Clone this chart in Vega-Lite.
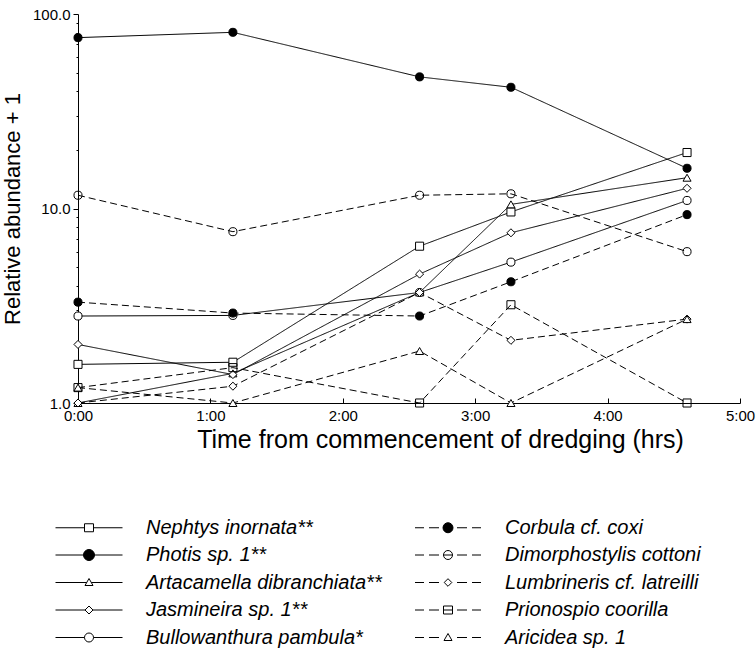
{
  "$schema": "https://vega.github.io/schema/vega-lite/v6.json",
  "width": 662,
  "height": 389,
  "autosize": {"type": "none"},
  "padding": {"left": 78, "top": 14, "right": 16, "bottom": 246},
  "background": "white",
  "config": {
    "view": {"stroke": null},
    "font": "Liberation Sans",
    "axis": {"domainColor": "black", "tickColor": "black", "labelColor": "black", "titleColor": "black", "titleFontWeight": "normal", "grid": false}
  },
  "data": {
    "values": [
      {"species": "Nephtys inornata**", "t": 0, "v": 1.58},
      {"species": "Nephtys inornata**", "t": 1.17, "v": 1.62},
      {"species": "Nephtys inornata**", "t": 2.58, "v": 6.4},
      {"species": "Nephtys inornata**", "t": 3.27, "v": 9.6},
      {"species": "Nephtys inornata**", "t": 4.6, "v": 19.4},
      {"species": "Photis sp. 1**", "t": 0, "v": 75.6},
      {"species": "Photis sp. 1**", "t": 1.17, "v": 80.5},
      {"species": "Photis sp. 1**", "t": 2.58, "v": 47.5},
      {"species": "Photis sp. 1**", "t": 3.27, "v": 42},
      {"species": "Photis sp. 1**", "t": 4.6, "v": 16.1},
      {"species": "Artacamella dibranchiata**", "t": 0, "v": 1.0},
      {"species": "Artacamella dibranchiata**", "t": 1.17, "v": 1.42},
      {"species": "Artacamella dibranchiata**", "t": 2.58, "v": 3.7},
      {"species": "Artacamella dibranchiata**", "t": 3.27, "v": 10.5},
      {"species": "Artacamella dibranchiata**", "t": 4.6, "v": 14.4},
      {"species": "Jasmineira sp. 1**", "t": 0, "v": 2.0},
      {"species": "Jasmineira sp. 1**", "t": 1.17, "v": 1.4},
      {"species": "Jasmineira sp. 1**", "t": 2.58, "v": 4.6},
      {"species": "Jasmineira sp. 1**", "t": 3.27, "v": 7.5},
      {"species": "Jasmineira sp. 1**", "t": 4.6, "v": 12.7},
      {"species": "Bullowanthura pambula*", "t": 0, "v": 2.8},
      {"species": "Bullowanthura pambula*", "t": 1.17, "v": 2.82},
      {"species": "Bullowanthura pambula*", "t": 2.58, "v": 3.7},
      {"species": "Bullowanthura pambula*", "t": 3.27, "v": 5.3},
      {"species": "Bullowanthura pambula*", "t": 4.6, "v": 11.0},
      {"species": "Corbula cf. coxi", "t": 0, "v": 3.3},
      {"species": "Corbula cf. coxi", "t": 1.17, "v": 2.9},
      {"species": "Corbula cf. coxi", "t": 2.58, "v": 2.8},
      {"species": "Corbula cf. coxi", "t": 3.27, "v": 4.2},
      {"species": "Corbula cf. coxi", "t": 4.6, "v": 9.3},
      {"species": "Dimorphostylis cottoni", "t": 0, "v": 11.7},
      {"species": "Dimorphostylis cottoni", "t": 1.17, "v": 7.6},
      {"species": "Dimorphostylis cottoni", "t": 2.58, "v": 11.7},
      {"species": "Dimorphostylis cottoni", "t": 3.27, "v": 11.9},
      {"species": "Dimorphostylis cottoni", "t": 4.6, "v": 6.0},
      {"species": "Lumbrineris cf. latreilli", "t": 0, "v": 1.0},
      {"species": "Lumbrineris cf. latreilli", "t": 1.17, "v": 1.22},
      {"species": "Lumbrineris cf. latreilli", "t": 2.58, "v": 3.7},
      {"species": "Lumbrineris cf. latreilli", "t": 3.27, "v": 2.1},
      {"species": "Lumbrineris cf. latreilli", "t": 4.6, "v": 2.7},
      {"species": "Prionospio coorilla", "t": 0, "v": 1.2},
      {"species": "Prionospio coorilla", "t": 1.17, "v": 1.52},
      {"species": "Prionospio coorilla", "t": 2.58, "v": 1.0},
      {"species": "Prionospio coorilla", "t": 3.27, "v": 3.2},
      {"species": "Prionospio coorilla", "t": 4.6, "v": 1.0},
      {"species": "Aricidea sp. 1", "t": 0, "v": 1.2},
      {"species": "Aricidea sp. 1", "t": 1.17, "v": 1.0},
      {"species": "Aricidea sp. 1", "t": 2.58, "v": 1.85},
      {"species": "Aricidea sp. 1", "t": 3.27, "v": 1.0},
      {"species": "Aricidea sp. 1", "t": 4.6, "v": 2.7}
    ]
  },
  "encoding": {
    "x": {
      "field": "t", "type": "quantitative",
      "scale": {"domain": [0, 5], "nice": false, "zero": false},
      "axis": {
        "title": "Time from commencement of dredging (hrs)",
        "values": [0, 1, 2, 3, 4, 5],
        "labelExpr": "floor(datum.value) + ':00'",
        "labelFontSize": 15, "titleFontSize": 25,
        "tickSize": -5, "labelPadding": 10, "titlePadding": 4, "labelFlush": false,
        "titleX": 362
      }
    },
    "y": {
      "field": "v", "type": "quantitative",
      "scale": {"type": "log", "domain": [1, 100], "nice": false},
      "axis": {
        "title": "Relative abundance + 1",
        "values": [1, 2, 3, 4, 5, 6, 7, 8, 9, 10, 20, 30, 40, 50, 60, 70, 80, 90, 100],
        "labelExpr": "datum.value == 1 || datum.value == 10 || datum.value == 100 ? format(datum.value, '.1f') : ''",
        "labelOverlap": false,
        "tickSize": {"condition": {"test": "datum.value == 1 || datum.value == 10 || datum.value == 100", "value": 5}, "value": 2},
        "labelFontSize": 15, "titleFontSize": 22, "labelPadding": 3, "titlePadding": 8
      }
    }
  },
  "layer": [
    {
      "mark": {"type": "line", "color": "black", "strokeWidth": 1},
      "encoding": {
        "detail": {"field": "species"},
        "strokeDash": {
          "field": "species", "type": "nominal", "legend": null,
          "scale": {
            "domain": ["Nephtys inornata**", "Photis sp. 1**", "Artacamella dibranchiata**", "Jasmineira sp. 1**", "Bullowanthura pambula*", "Corbula cf. coxi", "Dimorphostylis cottoni", "Lumbrineris cf. latreilli", "Prionospio coorilla", "Aricidea sp. 1"],
            "range": [[1, 0], [1, 0], [1, 0], [1, 0], [1, 0], [7, 4], [7, 4], [7, 4], [7, 4], [7, 4]]
          }
        }
      }
    },
    {
      "mark": {"type": "point", "filled": true, "stroke": "black", "strokeWidth": 1, "size": 65, "opacity": 1},
      "encoding": {
        "shape": {
          "field": "species", "type": "nominal", "legend": null,
          "scale": {
            "domain": ["Nephtys inornata**", "Photis sp. 1**", "Artacamella dibranchiata**", "Jasmineira sp. 1**", "Bullowanthura pambula*", "Corbula cf. coxi", "Dimorphostylis cottoni", "Lumbrineris cf. latreilli", "Prionospio coorilla", "Aricidea sp. 1"],
            "range": ["square", "circle", "triangle-up", "diamond", "circle", "circle", "circle", "diamond", "square", "triangle-up"]
          }
        },
        "fill": {
          "field": "species", "type": "nominal", "legend": null,
          "scale": {
            "domain": ["Nephtys inornata**", "Photis sp. 1**", "Artacamella dibranchiata**", "Jasmineira sp. 1**", "Bullowanthura pambula*", "Corbula cf. coxi", "Dimorphostylis cottoni", "Lumbrineris cf. latreilli", "Prionospio coorilla", "Aricidea sp. 1"],
            "range": ["white", "black", "white", "white", "white", "black", "transparent", "white", "transparent", "white"]
          }
        }
      }
    },
    {
      "mark": {"type": "point", "filled": true, "strokeWidth": 1, "opacity": 0},
      "encoding": {
        "shape": {
          "field": "species", "type": "nominal",
          "scale": {
            "domain": ["Nephtys inornata**", "Photis sp. 1**", "Artacamella dibranchiata**", "Jasmineira sp. 1**", "Bullowanthura pambula*", "Corbula cf. coxi", "Dimorphostylis cottoni", "Lumbrineris cf. latreilli", "Prionospio coorilla", "Aricidea sp. 1"],
            "range": [
              "M-3.35,0H-0.45M0.45,0H3.35M-0.45,-0.4H0.45V0.4H-0.45Z",
              "M-3.35,0H-0.55M0.55,0H3.35M0.55,0A0.55,0.55 0 1,1 -0.55,0A0.55,0.55 0 1,1 0.55,0Z",
              "M-3.35,0H-0.23M0.23,0H3.35M0,-0.4L0.4,0.3H-0.4Z",
              "M-3.35,0H-0.4M0.4,0H3.35M0,-0.4L0.4,0L0,0.4L-0.4,0Z",
              "M-3.35,0H-0.45M0.45,0H3.35M0.45,0A0.45,0.45 0 1,1 -0.45,0A0.45,0.45 0 1,1 0.45,0Z",
              "M-3.3,0H-2.4M-1.9,0H-0.9M0.9,0H1.9M2.4,0H3.3M0.5,0A0.5,0.5 0 1,1 -0.5,0A0.5,0.5 0 1,1 0.5,0Z",
              "M-3.3,0H-2.4M-1.9,0H-0.9M0.9,0H1.9M2.4,0H3.3M-0.45,0H0.45M0.45,0A0.45,0.45 0 1,1 -0.45,0A0.45,0.45 0 1,1 0.45,0Z",
              "M-3.3,0H-2.4M-1.9,0H-0.9M0.9,0H1.9M2.4,0H3.3M0,-0.38L0.38,0L0,0.38L-0.38,0Z",
              "M-3.3,0H-2.4M-1.9,0H-0.9M0.9,0H1.9M2.4,0H3.3M-0.45,0H0.45M-0.45,-0.4H0.45V0.4H-0.45Z",
              "M-3.3,0H-2.4M-1.9,0H-0.9M0.9,0H1.9M2.4,0H3.3M0,-0.4L0.4,0.3H-0.4Z"
            ]
          },
          "legend": {
            "title": null,
            "orient": "none",
            "legendX": 0.5,
            "legendY": 503,
            "padding": 0,
            "columns": 2,
            "columnPadding": 30,
            "rowPadding": 6.5,
            "symbolSize": 400,
            "symbolOpacity": 1,
            "symbolStrokeWidth": 1,
            "labelOffset": 46.5,
            "labelFont": "Liberation Sans",
            "labelFontStyle": "italic",
            "labelFontSize": 20,
            "labelColor": "black",
            "labelLimit": 400
          }
        },
        "fill": {
          "field": "species", "type": "nominal",
          "scale": {
            "domain": ["Nephtys inornata**", "Photis sp. 1**", "Artacamella dibranchiata**", "Jasmineira sp. 1**", "Bullowanthura pambula*", "Corbula cf. coxi", "Dimorphostylis cottoni", "Lumbrineris cf. latreilli", "Prionospio coorilla", "Aricidea sp. 1"],
            "range": ["white", "black", "white", "white", "white", "black", "transparent", "white", "transparent", "white"]
          }
        },
        "stroke": {
          "field": "species", "type": "nominal",
          "scale": {
            "domain": ["Nephtys inornata**", "Photis sp. 1**", "Artacamella dibranchiata**", "Jasmineira sp. 1**", "Bullowanthura pambula*", "Corbula cf. coxi", "Dimorphostylis cottoni", "Lumbrineris cf. latreilli", "Prionospio coorilla", "Aricidea sp. 1"],
            "range": ["black", "black", "black", "black", "black", "black", "black", "black", "black", "black"]
          }
        }
      }
    }
  ],
  "resolve": {"scale": {"shape": "independent", "fill": "independent", "stroke": "independent"}}
}
